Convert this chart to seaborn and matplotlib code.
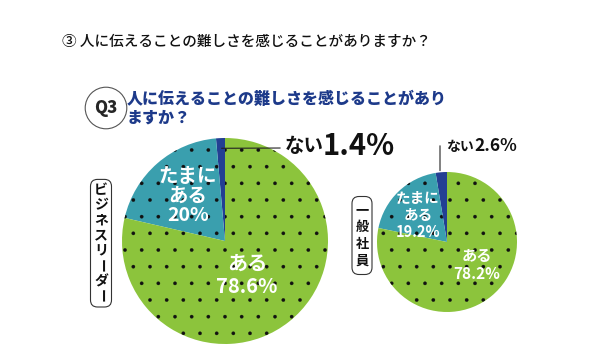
import matplotlib
matplotlib.use("Agg")
import matplotlib.pyplot as plt
from matplotlib.patches import FancyBboxPatch
import seaborn as sns

sns.set_style("white")
plt.rcParams["font.family"] = ["Noto Sans CJK JP", "DejaVu Sans"]
plt.rcParams["hatch.linewidth"] = 0.2

# data
categories = ["ない", "たまにある", "ある"]
leader_vals = [1.4, 20.0, 78.6]
staff_vals = [2.6, 19.2, 78.2]
colors = ["#233f93", "#3a9fae", "#8cc43c"]
groups = ["ビジネスリーダー", "一般社員"]

title = "③ 人に伝えることの難しさを感じることがありますか？"
heading = "人に伝えることの難しさを感じることがあり\nますか？"

W, H = 600, 364
fig = plt.figure(figsize=(6, 3.64), dpi=100)


def fx(x):
    return x / W


def fy(y):
    return 1 - y / H


def draw_pie(cx, cy, r, vals):
    ax = fig.add_axes([fx(cx - r), fy(cy + r), 2 * r / W, 2 * r / H])
    wedges, _ = ax.pie(vals, colors=colors, startangle=90, counterclock=True,
                       wedgeprops=dict(edgecolor="#111111", linewidth=0))
    for w in wedges[1:]:
        w.set_hatch(".")
    ax.set_xlim(-1, 1)
    ax.set_ylim(-1, 1)
    ax.set_aspect("equal")
    ax.axis("off")
    return ax


def vertical_label(text, cx, top, step, size, pad_x, pad_y):
    # box drawn in inches so the corners stay round
    n = len(text)
    y0 = top - step / 2 - pad_y
    y1 = top + (n - 1) * step + step / 2 + pad_y
    box = FancyBboxPatch(((cx - pad_x) / 100, (H - y1) / 100), 2 * pad_x / 100, (y1 - y0) / 100,
                         boxstyle="round,pad=0,rounding_size=0.07",
                         transform=fig.dpi_scale_trans, fc="white", ec="#333", lw=0.8)
    fig.patches.append(box)
    for i, ch in enumerate(text):
        rot = -90 if ch == "ー" else 0
        fig.text(fx(cx), fy(top + i * step), ch, fontsize=size, fontweight="bold",
                 ha="center", va="center", rotation=rot, color="#111")


ax1 = draw_pie(225, 241, 103, leader_vals)
ax2 = draw_pie(447, 242, 70, staff_vals)

# titles
fig.text(fx(62), fy(42), title, fontsize=10.5, fontweight="medium", va="center",
         ha="left", color="#111")
fig.text(fx(127), fy(108), heading, fontsize=11.5, fontweight="heavy", va="center",
         ha="left", color="#1d3a8a", linespacing=1.25)
fig.text(fx(106), fy(108), "Q3", fontsize=12, fontweight="heavy", ha="center", va="center",
         bbox=dict(boxstyle="circle,pad=0.55", fc="white", ec="#555", lw=0.8))

bold = dict(fontweight="bold", family=["Noto Sans CJK JP", "DejaVu Sans"])

# big pie labels
fig.text(fx(188), fy(196), "たまに\nある\n" + f"{leader_vals[1]:.0f}%", color="white",
         fontsize=14, ha="center", va="center", linespacing=1.05, **bold)
fig.text(fx(247), fy(275), "ある\n" + f"{leader_vals[2]}%", color="white",
         fontsize=14.5, ha="center", va="center", linespacing=1.1, **bold)
fig.text(fx(285), fy(147), "ない", fontsize=14, ha="left", va="center", color="#111", **bold)
fig.text(fx(323), fy(146), f"{leader_vals[0]}%", fontsize=21, ha="left", va="center",
         color="#111", **bold)
ax1.annotate("", xy=(-0.06, 0.9), xytext=(fx(283), fy(148)), textcoords="figure fraction",
             arrowprops=dict(arrowstyle="-", color="#222", lw=0.8))

# small pie labels
fig.text(fx(418), fy(215), "たまに\nある\n" + f"{staff_vals[1]}%", color="white",
         fontsize=10.5, ha="center", va="center", linespacing=1.05, **bold)
fig.text(fx(477), fy(265), "ある\n" + f"{staff_vals[2]}%", color="white",
         fontsize=11, ha="center", va="center", linespacing=1.1, **bold)
fig.text(fx(446), fy(147), "ない", fontsize=10, ha="left", va="center", color="#111", **bold)
fig.text(fx(474), fy(146), f"{staff_vals[0]}%", fontsize=12.5, ha="left", va="center",
         color="#111", **bold)
ax2.annotate("", xy=(-0.1, 0.98), xytext=(fx(440), fy(143)), textcoords="figure fraction",
             arrowprops=dict(arrowstyle="-", color="#222", lw=0.8))

# vertical group labels
vertical_label(groups[0], 101, 190, 15.2, 10, 10.5, 3)
vertical_label(groups[1], 362, 210, 17, 9.5, 10, 5)

fig.savefig("out.png", dpi=100, facecolor="white")
